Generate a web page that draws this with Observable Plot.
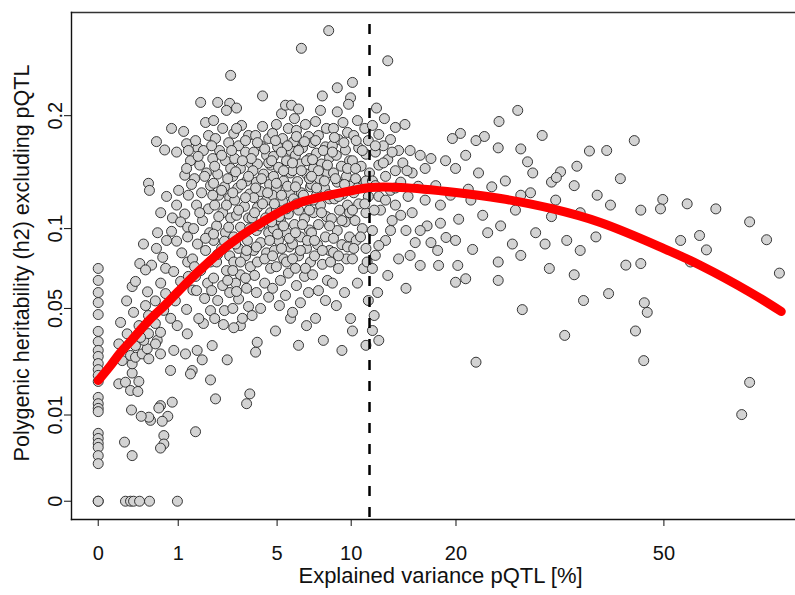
<!DOCTYPE html>
<html>
<head>
<meta charset="utf-8">
<script src="https://cdn.jsdelivr.net/npm/d3@7"></script>
<script src="https://cdn.jsdelivr.net/npm/@observablehq/plot@0.6"></script>
<style>
  html, body { margin: 0; padding: 0; background: #fff; overflow: hidden; }
</style>
</head>
<body>
<div id="chart"></div>
<script>
// ---- data: [explained variance pQTL %, polygenic h2] ----
const ptsAxisZero = [
  [0,0.0729],[0,0.0656],[0,0.0586],[0,0.0531],[0,0.0469],[0,0.0388],[0,0.0343],[0,0.0306],
  [0,0.0282],[0,0.0255],[0,0.0233],[0,0.0213],[0,0.0193],[0,0.0145],[0,0.0128],[0,0.0116],
  [0,0.0108],[0,0.0062],[0,0.0053],[0,0.0045],[0,0.0039],[0,0.0028],[0,0.0019],[0,0],[0,0],
  [0.116,0],[0.163,0],[0.195,0],[0.267,0],[0.411,0],[0.98,0]
];
const ptsLowLeft = [
  [0.0663,0.0333],[0.09,0.0266],[0.131,0.0377],[0.066,0.01855],[0.116,0.01906],[0.163,0.0165],
  [0.245,0.0162],[0.258,0.0193],[0.18,0.0221],[0.18,0.0254],[0.163,0.0286],[0.217,0.0279],
  [0.302,0.0292],[0.4,0.0273],[0.375,0.0313],[0.217,0.0326],[0.325,0.0348],[0.544,0.0348],
  [0.606,0.0292],[0.513,0.0333],[0.817,0.023],[0.893,0.0306],[1.19,0.0292],[1.24,0.0377],
  [1.53,0.0306],[1.69,0.0269],[1.38,0.023],[1.33,0.0218],[1.97,0.0198],[2.03,0.0326],
  [2.6,0.0269],[2.15,0.0141],[0.856,0.0132],[0.606,0.0123],[0.574,0.0117],[0.757,0.0097],
  [0.64,0.0086],[0.427,0.0088],[0.4,0.0095],[0.289,0.0097],[0.173,0.0112],[0.108,0.0047],
  [0.18,0.0028],[0.673,0.0058],[0.673,0.0044],[0.606,0.0038],[1.48,0.0065],[3.59,0.0155],
  [3.44,0.0128],[3.87,0.0299],[3.95,0.034],[3.16,0.0415],[2.87,0.0405],[2.45,0.042],
  [1.73,0.0425],[0.975,0.0415],[0.606,0.0384],[0.395,0.0378],[0.28,0.0361]
];
const ptsLeftCluster = [
  [0.53,0.174],[0.84,0.187],[1.14,0.184],[0.96,0.164],[0.69,0.166],[0.395,0.136],[0.41,0.13],
  [0.73,0.125],[1.01,0.13],[1.27,0.126],[0.96,0.118],[1.17,0.111],[0.86,0.108],[1.06,0.105],
  [1.25,0.101],[0.84,0.098],[0.73,0.0915],[0.96,0.091],[0.32,0.089],[0.53,0.086],[0.65,0.08],
  [0.27,0.076],[0.445,0.075],[0.71,0.073],[1.09,0.083],[1.25,0.077],[0.89,0.071],[1.06,0.065],
  [0.61,0.064],[0.38,0.059],[0.71,0.058],[0.51,0.054],[0.93,0.054],[0.35,0.0515],[0.67,0.049],
  [0.395,0.0464],[0.82,0.045],[1.22,0.0495],[1.4,0.06],[1.48,0.068],[0.126,0.054],[0.195,0.048],
  [0.078,0.043],[0.26,0.0415],[0.51,0.0425],[0.18,0.062],[0.35,0.072],[0.217,0.065],[0.55,0.097],
  [0.61,0.112],[1.17,0.143],[1.33,0.156],[1.55,0.168],[1.22,0.172]
];
const ptsCore = [
  [1.64,0.214],[1.8,0.193],[1.48,0.175],[1.73,0.1655],[1.9,0.18],[1.61,0.152],[1.83,0.145],
  [1.45,0.14],[1.97,0.134],[1.67,0.128],[1.51,0.118],[1.9,0.115],[1.7,0.106],[1.42,0.1],
  [1.94,0.097],[1.54,0.089],[1.8,0.0846],[1.39,0.079],[1.97,0.077],[1.64,0.0716],[1.87,0.064],
  [1.51,0.0597],[1.77,0.0553],[1.97,0.0489],[1.58,0.0449],
  [2.23,0.214],[2.7,0.213],[2.57,0.2055],[2.08,0.195],[2.42,0.187],[2.15,0.177],[2.66,0.173],
  [2.3,0.1655],[2.05,0.158],[2.53,0.156],[2.74,0.149],[2.23,0.144],[2.08,0.136],[2.49,0.133],
  [2.27,0.126],[2.7,0.124],[2.12,0.118],[2.42,0.112],[2.74,0.108],[2.19,0.102],[2.53,0.097],
  [2.08,0.0915],[2.38,0.086],[2.7,0.081],[2.19,0.077],[2.57,0.0716],[2.08,0.067],[2.42,0.0626],
  [2.7,0.0586],[2.23,0.0542],[2.49,0.0489],[2.12,0.0449],
  [2.74,0.244],[2.99,0.208],[3.21,0.19],[2.87,0.182],[3.53,0.18],[3.08,0.17],[3.39,0.164],
  [2.91,0.158],[3.62,0.154],[3.16,0.149],[2.83,0.142],[3.44,0.138],[3.04,0.132],[3.58,0.127],
  [2.91,0.122],[3.34,0.117],[2.99,0.11],[3.53,0.108],[3.16,0.101],[2.87,0.094],[3.48,0.0915],
  [3.08,0.086],[3.39,0.081],[2.87,0.077],[3.62,0.074],[3.16,0.069],[2.95,0.064],[3.44,0.061],
  [3.08,0.055],[3.53,0.051],[3.25,0.045],[2.83,0.05],
  [4.22,0.221],[4.22,0.189],[3.87,0.18],[4.54,0.177],[4.12,0.17],[3.78,0.164],[4.43,0.161],
  [3.96,0.153],[4.64,0.152],[3.74,0.147],[4.27,0.144],[3.91,0.137],[4.59,0.135],[4.12,0.129],
  [3.78,0.124],[4.43,0.122],[3.96,0.116],[4.64,0.112],[3.7,0.108],[4.27,0.104],[3.91,0.0986],
  [4.54,0.097],[4.12,0.09],[3.78,0.0846],[4.43,0.083],[3.96,0.077],[4.64,0.073],[3.82,0.0686],
  [4.33,0.064],[3.91,0.0586],[4.54,0.056],[4.12,0.05],[3.7,0.0464],
  [5.25,0.202],[5.48,0.211],[4.96,0.191],[5.65,0.187],[4.75,0.182],[5.31,0.177],[5.03,0.169],
  [5.78,0.1655],[4.8,0.16],[5.54,0.156],[5.08,0.15],[5.78,0.145],[4.8,0.142],[5.37,0.138],
  [4.96,0.132],[5.71,0.128],[4.75,0.126],[5.31,0.121],[4.96,0.114],[5.65,0.111],[5.19,0.106],
  [4.8,0.1],[5.54,0.097],[5.08,0.0915],[5.71,0.087],[4.85,0.0846],[5.37,0.079],[4.96,0.074],
  [5.65,0.07],[5.19,0.0656],[4.75,0.061],[5.48,0.057],[5.13,0.0515],[5.78,0.045],[4.91,0.039],
  [6.45,0.276],[5.84,0.211],[6.27,0.207],[6.02,0.197],[6.71,0.191],[6.14,0.185],[6.91,0.179],
  [5.96,0.174],[6.52,0.168],[6.08,0.161],[6.97,0.158],[6.39,0.153],[5.9,0.147],[6.78,0.144],
  [6.21,0.1375],[7.04,0.133],[6.45,0.128],[5.96,0.123],[6.84,0.121],[6.27,0.114],[6.65,0.1075],
  [6.02,0.103],[6.97,0.099],[6.39,0.094],[5.9,0.089],[6.78,0.086],[6.27,0.081],[7.04,0.077],
  [6.08,0.073],[6.65,0.068],[6.14,0.0626],[6.91,0.0586],[6.39,0.053],[5.9,0.048],[6.78,0.0415],
  [6.27,0.0327],
  [8.3,0.298],[7.85,0.221],[7.72,0.2055],[7.38,0.194],[8.14,0.187],[7.58,0.18],[7.18,0.173],
  [8.07,0.169],[7.45,0.163],[8.36,0.159],[7.79,0.153],[7.24,0.149],[8.21,0.145],[7.58,0.14],
  [7.11,0.135],[8.0,0.132],[7.45,0.126],[8.36,0.123],[7.72,0.118],[7.24,0.112],[8.14,0.109],
  [7.58,0.103],[7.11,0.097],[8.07,0.094],[7.52,0.0886],[8.36,0.0846],[7.31,0.081],[7.85,0.0755],
  [7.18,0.069],[8.21,0.0656],[7.58,0.0597],[8.07,0.0542],[7.38,0.045],[7.92,0.0348],
  [8.93,0.23],[10.1,0.236],[9.95,0.219],[9.79,0.212],[8.93,0.204],[9.36,0.193],[8.65,0.187],
  [9.71,0.183],[9.02,0.176],[8.57,0.17],[9.55,0.166],[8.86,0.161],[9.87,0.156],[9.24,0.151],
  [8.65,0.145],[9.63,0.142],[8.93,0.137],[9.95,0.1335],[9.36,0.127],[8.72,0.123],[9.71,0.118],
  [9.1,0.114],[8.5,0.1075],[9.55,0.105],[8.93,0.0986],[9.87,0.094],[9.28,0.0886],[8.65,0.0833],
  [9.63,0.079],[9.02,0.0729],[8.57,0.064],[9.48,0.0586],[8.86,0.0515],[9.95,0.0449],[9.28,0.0306],
  [10.5,0.195],[11.1,0.187],[10.2,0.18],[11.4,0.175],[10.6,0.168],[11.2,0.162],[10.1,0.156],
  [10.8,0.151],[11.5,0.145],[10.35,0.14],[11.0,0.135],[10.2,0.128],[11.4,0.125],[10.6,0.119],
  [11.2,0.112],[10.3,0.106],[10.9,0.1],[10.4,0.0915],[11.2,0.086],[10.1,0.079],[11.0,0.0729],
  [10.5,0.064],[11.4,0.0542],[10.1,0.039],[11.2,0.0327]
];
const ptsCoreExtra = [
  [3.96,0.173],[4.33,0.167],[3.66,0.158],[4.54,0.154],[4.17,0.14],[3.87,0.132],[4.48,0.128],
  [4.22,0.119],[3.82,0.112],[4.38,0.108],[4.07,0.102],[4.59,0.0915],[3.91,0.087],[4.33,0.079],
  [4.91,0.175],[5.6,0.17],[5.25,0.164],[4.7,0.156],[5.37,0.147],[4.96,0.136],[5.6,0.1335],
  [5.25,0.126],[4.85,0.119],[5.54,0.115],[5.13,0.109],[4.7,0.105],[5.37,0.102],[5.03,0.096],
  [5.71,0.093],[5.25,0.086],[4.75,0.081],[5.54,0.077],
  [6.14,0.179],[6.65,0.174],[6.27,0.1655],[6.78,0.156],[5.9,0.154],[6.45,0.147],[6.97,0.14],
  [6.08,0.133],[6.58,0.126],[6.14,0.119],[6.97,0.114],[6.52,0.103],[6.08,0.097],[6.84,0.0915],
  [6.39,0.0846],[5.9,0.079],[6.71,0.073],
  [7.38,0.175],[7.92,0.1655],[7.18,0.157],[8.21,0.152],[7.58,0.147],[7.11,0.142],[8.0,0.138],
  [7.45,0.132],[8.29,0.1265],[7.24,0.122],[7.79,0.112],[8.36,0.102],[7.31,0.0915],[7.85,0.0846],
  [8.43,0.077],
  [8.72,0.178],[9.43,0.173],[8.57,0.164],[9.71,0.149],[8.79,0.14],[9.48,0.135],[9.02,0.125],
  [9.87,0.112],[9.28,0.106],[8.65,0.093],[9.71,0.087],[9.02,0.081],
  [10.4,0.175],[10.9,0.1655],[10.35,0.149],[11.2,0.138],[10.5,0.132],[11.1,0.119],[10.1,0.114],
  [10.75,0.094],[10.2,0.086],[11.3,0.077],
  [1.27,0.1655],[1.56,0.16],[1.22,0.149],[1.77,0.142],[1.36,0.135],[1.61,0.112],[1.25,0.094],
  [1.8,0.093],[1.45,0.074],[1.27,0.068],
  [2.01,0.17],[2.38,0.161],[2.12,0.151],[2.62,0.14],[2.38,0.13],[2.05,0.126],[2.57,0.118],
  [2.27,0.109],[2.66,0.101],[2.08,0.096],[2.49,0.091],[2.23,0.082],[2.62,0.0656],[2.01,0.0597],
  [2.99,0.187],[3.39,0.175],[2.78,0.1655],[3.25,0.156],[2.95,0.146],[3.53,0.142],[3.21,0.135],
  [2.83,0.128],[3.39,0.124],[3.08,0.114],[3.58,0.1],[2.95,0.089],[3.44,0.0846],[3.16,0.077],
  [2.83,0.0716],[3.39,0.067],[2.99,0.0592]
];
const ptsNearThreshold = [
  [12.1,0.208],[13.1,0.261],[12.8,0.197],[11.75,0.19],[13.8,0.188],[14.7,0.191],[12.3,0.181],
  [13.35,0.176],[12.7,0.17],[14.1,0.1655],[12.0,0.164],[15.2,0.1655],[13.1,0.157],[14.5,0.154],
  [16.2,0.161],[17.3,0.158],[12.3,0.152],[13.8,0.147],[15.4,0.145],[12.9,0.142],[16.7,0.149],
  [11.75,0.138],[14.3,0.137],[16.0,0.1335],[13.35,0.13],[17.8,0.134],[12.3,0.125],[15.0,0.125],
  [13.8,0.118],[16.7,0.122],[12.45,0.114],[15.4,0.112],[18.3,0.118],[13.5,0.106],[11.75,0.0986],
  [14.8,0.0986],[16.9,0.102],[12.9,0.0915],[15.7,0.09],[12.0,0.0813],[14.1,0.079],[18.0,0.0846],
  [11.75,0.0729],[16.2,0.0748],[13.1,0.0686],[12.2,0.0586],[14.8,0.061],[11.9,0.0464],
  [11.75,0.0392],[12.3,0.0348],[18.9,0.0936],
  [12.0,0.17],[13.5,0.164],[12.7,0.154],[14.9,0.147],[12.0,0.134],[13.8,0.132],[12.9,0.122],
  [11.9,0.114],[14.3,0.11],[13.35,0.0986],[12.3,0.088],[16.2,0.0986],[15.2,0.0813],[17.3,0.09]
];
const ptsRight = [
  [27.5,0.2055],[25.1,0.194],[23.3,0.179],[20.5,0.182],[19.6,0.177],[22.3,0.175],[30.8,0.18],
  [40.4,0.1655],[37.7,0.165],[44.9,0.175],[35.8,0.151],[33.4,0.146],[27.9,0.167],[25.0,0.168],
  [21.1,0.161],[18.85,0.156],[19.95,0.149],[22.6,0.145],[28.8,0.155],[29.5,0.145],[32.1,0.137],
  [32.8,0.141],[35.4,0.134],[42.6,0.14],[25.9,0.138],[24.2,0.133],[21.4,0.131],[19.4,0.126],
  [29.2,0.128],[38.9,0.126],[49.8,0.1225],[49.4,0.115],[54.2,0.119],[59.6,0.115],[46.0,0.114],
  [41.0,0.118],[36.3,0.112],[32.1,0.109],[27.2,0.114],[23.1,0.11],[20.3,0.107],[25.3,0.102],
  [29.9,0.097],[34.3,0.0915],[38.7,0.094],[66.3,0.105],[69.8,0.092],[53.0,0.0915],[56.5,0.095],
  [57.8,0.085],[54.8,0.077],[46.0,0.076],[43.5,0.075],[36.3,0.0846],[31.8,0.0729],[35.4,0.069],
  [31.2,0.089],[27.9,0.0813],[25.0,0.077],[21.9,0.0853],[20.2,0.0748],[18.1,0.0748],[21.1,0.0666],
  [25.0,0.0656],[72.5,0.07],[36.8,0.0542],[40.7,0.058],[46.6,0.053],[47.1,0.048],[45.1,0.039],
  [28.1,0.0494],[34.0,0.037],[22.3,0.026],[46.5,0.0266],[64.7,0.0101],[66.3,0.019],[19.95,0.0645],
  [26.8,0.089],[23.7,0.097],[19.95,0.0915],[18.3,0.104],[21.7,0.122],[27.9,0.126],[32.7,0.122]
];

// fitted trend (red line)
const trendVar = [0, 0.024, 0.078, 0.163, 0.40, 0.71, 1.0, 1.64, 2.74, 5.0, 6.39, 10.1, 11.6, 14.3, 20.0, 25.3, 32.0, 39.4, 50.0, 56.7, 66.5, 72.9];
const trendH2  = [0.0196, 0.0248, 0.0298, 0.0344, 0.0439, 0.0521, 0.0592, 0.0723, 0.0894, 0.1114, 0.1201, 0.1299, 0.1325, 0.1325, 0.1283, 0.1233, 0.1153, 0.1045, 0.0859, 0.0748, 0.0586, 0.0484];

const thresholdVar = 11.5;   // dashed vertical line
const xTicks = [0, 1, 5, 10, 20, 50];
const yTicks = [0, 0.01, 0.05, 0.1, 0.2];
const xTitle = "Explained variance pQTL [%]";
const yTitle = "Polygenic heritability (h2) excluding pQTL";

// ---- build ----
const points = [...ptsAxisZero, ...ptsLowLeft, ...ptsLeftCluster, ...ptsCore, ...ptsCoreExtra, ...ptsNearThreshold, ...ptsRight]
  .map(([v, h]) => ({v, h}));
const trend = trendVar.map((v, i) => ({v, h: trendH2[i]}));
const sx = d => Math.sqrt(d.v);
const sy = d => Math.sqrt(d.h);
const xLab = new Map(xTicks.map(t => [Math.sqrt(t), String(t)]));
const FONT = "'Liberation Sans', Arial, Helvetica, sans-serif";

const chart = Plot.plot({
  width: 795,
  height: 595,
  marginLeft: 71,
  marginRight: 0,
  marginTop: 12,
  marginBottom: 76,
  style: {fontFamily: FONT, background: "#fff", color: "#111"},
  x: {type: "linear", domain: [-0.334, 8.716]},
  y: {type: "linear", domain: [-0.0212, 0.5669]},
  marks: [
    Plot.dot(points, {x: sx, y: sy, r: 5, fill: "#d3d3d3", stroke: "#222", strokeWidth: 0.9}),
    Plot.line(trend, {x: sx, y: sy, stroke: "#ff0000", strokeWidth: 9, curve: "catmull-rom", strokeLinecap: "round"}),
    Plot.ruleX([thresholdVar], {x: d => Math.sqrt(d), stroke: "#000", strokeWidth: 2.5, strokeDasharray: "10,11", strokeDashoffset: 9}),
    Plot.frame({anchor: "top", stroke: "#333", strokeWidth: 1.4}),
    Plot.frame({anchor: "left", stroke: "#111", strokeWidth: 1.4}),
    Plot.frame({anchor: "bottom", stroke: "#111", strokeWidth: 1.4}),
    Plot.axisX({ticks: xTicks.map(Math.sqrt), tickFormat: d => xLab.get(d), tickSize: 7, tickPadding: 19, fontSize: 20, label: null, stroke: "#111"}),
    Plot.axisY({ticks: yTicks.map(Math.sqrt), tickFormat: () => "", tickSize: 7, label: null, stroke: "#111"}),
    Plot.text(yTicks, {y: d => Math.sqrt(d), text: d => String(d), frameAnchor: "left", textAnchor: "middle", rotate: -90, dx: -15.5, fontSize: 20, fill: "#111"}),
    Plot.text([xTitle], {frameAnchor: "bottom", textAnchor: "middle", dx: 7, dy: 63, fontSize: 22, fill: "#111"}),
    Plot.text([yTitle], {frameAnchor: "left", textAnchor: "middle", rotate: -90, dx: -49, dy: -3, fontSize: 21.5, fill: "#111"})
  ]
});
document.getElementById("chart").appendChild(chart);
</script>
</body>
</html>
